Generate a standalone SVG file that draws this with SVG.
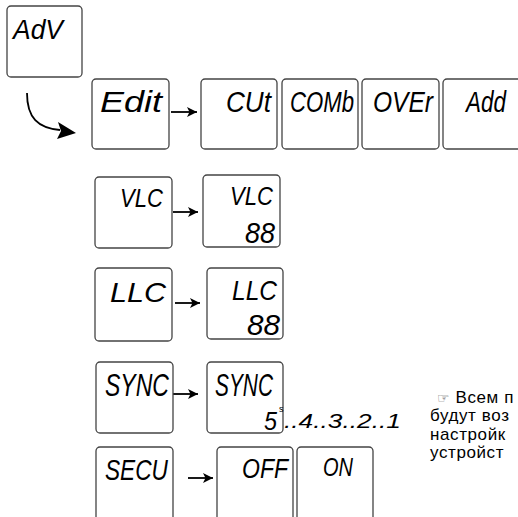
<svg xmlns="http://www.w3.org/2000/svg" width="518" height="517" viewBox="0 0 518 517">
<defs>
<marker id="ah" viewBox="0 0 10 10" refX="10" refY="5" markerWidth="10" markerHeight="10" markerUnits="userSpaceOnUse" orient="auto">
<path d="M0,0 L10,5 L0,10 L2.5,5 Z" fill="#000"/>
</marker>
</defs>
<style>
.box{fill:#fff;stroke:#444;stroke-width:1.3}
.seg{font-family:"Liberation Sans",Arial,sans-serif;font-style:italic;fill:#000}
.con{stroke:#000;stroke-width:1.8;fill:none}
.note{font-family:"Liberation Sans",Arial,sans-serif;font-size:17px;letter-spacing:0.6px;fill:#000}
</style>
<rect width="518" height="517" fill="#fff"/>
<g id="connectors">
<path class="con" d="M27,93 C27,118 38,128 60,130"/>
<path d="M58,122 L76,133 L57,139 L61,131 Z" fill="#000"/>
<line class="con" x1="171" y1="112" x2="197" y2="112" marker-end="url(#ah)"/>
<line class="con" x1="173" y1="212" x2="198" y2="212" marker-end="url(#ah)"/>
<line class="con" x1="175" y1="303" x2="200" y2="303" marker-end="url(#ah)"/>
<line class="con" x1="173" y1="394" x2="198" y2="394" marker-end="url(#ah)"/>
<line class="con" x1="188" y1="478" x2="213" y2="478" marker-end="url(#ah)"/>
</g>
<g id="adv"><rect class="box" x="7" y="6" width="75" height="71" rx="4"/><text class="seg" x="13" y="39" font-size="28" textLength="50" lengthAdjust="spacingAndGlyphs">AdV</text></g>
<g id="edit"><rect class="box" x="92" y="79" width="77" height="70" rx="4"/><text class="seg" x="100" y="112" font-size="29" textLength="62" lengthAdjust="spacingAndGlyphs">Edit</text></g>
<g id="cut"><rect class="box" x="201" y="79" width="76" height="70" rx="4"/><text class="seg" x="226" y="112" font-size="30" textLength="45" lengthAdjust="spacingAndGlyphs">CUt</text></g>
<g id="comb"><rect class="box" x="282" y="79" width="76" height="70" rx="4"/><text class="seg" x="290" y="112" font-size="30" textLength="64" lengthAdjust="spacingAndGlyphs">COMb</text></g>
<g id="over"><rect class="box" x="362" y="79" width="77" height="70" rx="4"/><text class="seg" x="373" y="112" font-size="30" textLength="60" lengthAdjust="spacingAndGlyphs">OVEr</text></g>
<g id="add"><rect class="box" x="443" y="79" width="90" height="70" rx="4"/><text class="seg" x="466" y="112" font-size="30" textLength="40" lengthAdjust="spacingAndGlyphs">Add</text></g>
<g id="vlc1"><rect class="box" x="95" y="177" width="77" height="71" rx="4"/><text class="seg" x="120" y="207" font-size="25" textLength="43" lengthAdjust="spacingAndGlyphs">VLC</text></g>
<g id="vlc2"><rect class="box" x="203" y="175" width="77" height="72" rx="4"/><text class="seg" x="230" y="205" font-size="25" textLength="43" lengthAdjust="spacingAndGlyphs">VLC</text><text class="seg" x="245" y="243" font-size="29" textLength="30" lengthAdjust="spacingAndGlyphs">88</text></g>
<g id="llc1"><rect class="box" x="95" y="268" width="77" height="73" rx="4"/><text class="seg" x="110" y="302" font-size="28" textLength="56" lengthAdjust="spacingAndGlyphs">LLC</text></g>
<g id="llc2"><rect class="box" x="207" y="268" width="76" height="71" rx="4"/><text class="seg" x="232" y="300" font-size="28" textLength="45" lengthAdjust="spacingAndGlyphs">LLC</text><text class="seg" x="247" y="335" font-size="30" textLength="33" lengthAdjust="spacingAndGlyphs">88</text></g>
<g id="sync1"><rect class="box" x="96" y="362" width="77" height="71" rx="4"/><text class="seg" x="105" y="396" font-size="32" textLength="64" lengthAdjust="spacingAndGlyphs">SYNC</text></g>
<g id="sync2"><rect class="box" x="207" y="362" width="76" height="71" rx="4"/><text class="seg" x="215" y="396" font-size="32" textLength="58" lengthAdjust="spacingAndGlyphs">SYNC</text><text x="279" y="412" font-family="Liberation Sans,Arial,sans-serif" font-size="9">s</text><text class="seg" x="264" y="430" font-size="25" textLength="13" lengthAdjust="spacingAndGlyphs">5</text></g>
<g id="countdown"><text class="seg" x="284" y="428" font-size="20" textLength="117" lengthAdjust="spacingAndGlyphs">..4..3..2..1</text></g>
<g id="secu"><rect class="box" x="96" y="447" width="77" height="80" rx="4"/><text class="seg" x="105" y="480" font-size="30" textLength="63" lengthAdjust="spacingAndGlyphs">SECU</text></g>
<g id="off"><rect class="box" x="217" y="447" width="76" height="80" rx="4"/><text class="seg" x="242" y="478" font-size="28" textLength="46" lengthAdjust="spacingAndGlyphs">OFF</text></g>
<g id="on"><rect class="box" x="297" y="447" width="76" height="80" rx="4"/><text class="seg" x="323" y="476" font-size="26" textLength="30" lengthAdjust="spacingAndGlyphs">ON</text></g>
<g id="note">
<text class="note" x="437" y="403"><tspan font-family="DejaVu Sans,sans-serif" font-size="14" fill="#555">☞</tspan> Всем п</text>
<text class="note" x="430" y="421">будут воз</text>
<text class="note" x="430" y="439.5">настройк</text>
<text class="note" x="430" y="458">устройст</text>
</g>
</svg>
